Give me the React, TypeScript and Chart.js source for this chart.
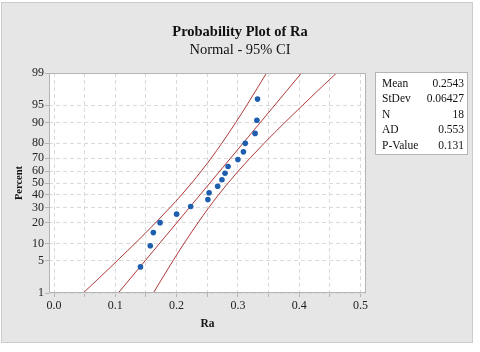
import React, { useEffect, useRef } from 'react';
import { Chart, registerables } from 'chart.js';

Chart.register(...registerables);

// ---- Data ----
const raValues = [0.141, 0.157, 0.162, 0.173, 0.2, 0.223, 0.251, 0.253, 0.267, 0.274, 0.279, 0.284, 0.3, 0.309, 0.312, 0.328, 0.331, 0.332];
const pointPercents = [3.8, 9.2, 14.7, 20.1, 25.5, 31.0, 36.4, 41.8, 47.3, 52.7, 58.2, 63.6, 69.0, 74.5, 79.9, 85.3, 90.8, 96.2];

const fitPercents = [1, 99];
const fitRa = [0.1048, 0.4038];

const ciPercents = [1, 2, 5, 10, 20, 30, 40, 50, 60, 70, 80, 90, 95, 98, 99];
const ciLowerRa = [0.0476, 0.07, 0.103, 0.1319, 0.1657, 0.1889, 0.2079, 0.2246, 0.2404, 0.2563, 0.2738, 0.2966, 0.3145, 0.3339, 0.3467];
const ciUpperRa = [0.162, 0.1747, 0.1941, 0.212, 0.2348, 0.2523, 0.2682, 0.284, 0.3007, 0.3197, 0.3429, 0.3767, 0.4056, 0.4386, 0.461];

const yTickPercents = [1, 5, 10, 20, 30, 40, 50, 60, 70, 80, 90, 95, 99];
const xTickValues = [0, 0.05, 0.1, 0.15, 0.2, 0.25, 0.3, 0.35, 0.4, 0.45, 0.5];
const xTickLabels = ['0.0', '', '0.1', '', '0.2', '', '0.3', '', '0.4', '', '0.5'];

const statLabels = ['Mean', 'StDev', 'N', 'AD', 'P-Value'];
const statValues = ['0.2543', '0.06427', '18', '0.553', '0.131'];

const titleText = 'Probability Plot of Ra';
const subtitleText = 'Normal - 95% CI';
const xTitle = 'Ra';
const yTitle = 'Percent';

// inverse standard normal CDF (probability axis transform)
function probit(p: number): number {
  const a = [-3.969683028665376e1, 2.209460984245205e2, -2.759285104469687e2, 1.38357751867269e2, -3.066479806614716e1, 2.506628277459239];
  const b = [-5.447609879822406e1, 1.615858368580409e2, -1.556989798598866e2, 6.680131188771972e1, -1.328068155288572e1];
  const c = [-7.784894002430293e-3, -3.223964580411365e-1, -2.400758277161838, -2.549732539343734, 4.374664141464968, 2.938163982698783];
  const d = [7.784695709041462e-3, 3.224671290700398e-1, 2.445134137142996, 3.754408661907416];
  const pl = 0.02425;
  const ph = 1 - pl;
  let q: number, r: number;
  if (p < pl) {
    q = Math.sqrt(-2 * Math.log(p));
    return (((((c[0] * q + c[1]) * q + c[2]) * q + c[3]) * q + c[4]) * q + c[5]) / ((((d[0] * q + d[1]) * q + d[2]) * q + d[3]) * q + 1);
  }
  if (p <= ph) {
    q = p - 0.5;
    r = q * q;
    return ((((((a[0] * r + a[1]) * r + a[2]) * r + a[3]) * r + a[4]) * r + a[5]) * q) / (((((b[0] * r + b[1]) * r + b[2]) * r + b[3]) * r + b[4]) * r + 1);
  }
  q = Math.sqrt(-2 * Math.log(1 - p));
  return -(((((c[0] * q + c[1]) * q + c[2]) * q + c[3]) * q + c[4]) * q + c[5]) / ((((d[0] * q + d[1]) * q + d[2]) * q + d[3]) * q + 1);
}

const SERIF = '"Liberation Serif", "Times New Roman", serif';
const RED = '#b03a3a';
const BLUE = '#1d5fae';

const decorPlugin = {
  id: 'decor',
  beforeDraw(chart: any) {
    const { ctx, chartArea: a } = chart;
    ctx.save();
    ctx.fillStyle = '#ffffff';
    ctx.fillRect(0, 0, chart.width, chart.height);
    ctx.fillStyle = '#e6e6e6';
    ctx.fillRect(1, 2, 472, 341);
    ctx.strokeStyle = '#cccccc';
    ctx.lineWidth = 1;
    ctx.strokeRect(1.5, 2.5, 471, 340);
    ctx.fillStyle = '#ffffff';
    ctx.fillRect(a.left, a.top, a.right - a.left, a.bottom - a.top);
    ctx.restore();
  },
  afterDraw(chart: any) {
    const { ctx, chartArea: a } = chart;
    ctx.save();
    // plot frame
    ctx.strokeStyle = '#b4b4b4';
    ctx.lineWidth = 1;
    ctx.strokeRect(a.left + 0.5, a.top + 0.5, a.right - a.left - 1, a.bottom - a.top - 1);

    // titles
    ctx.fillStyle = '#111';
    ctx.textAlign = 'center';
    ctx.textBaseline = 'alphabetic';
    ctx.font = `bold 14.5px ${SERIF}`;
    ctx.fillText(titleText, 240, 36);
    ctx.font = `14.5px ${SERIF}`;
    ctx.fillText(subtitleText, 240, 54);

    // axis titles
    ctx.font = `bold 11.5px ${SERIF}`;
    ctx.fillText(xTitle, (a.left + a.right) / 2, 327);
    ctx.save();
    ctx.translate(19, (a.top + a.bottom) / 2);
    ctx.rotate(-Math.PI / 2);
    ctx.textBaseline = 'middle';
    ctx.font = `bold 10.5px ${SERIF}`;
    ctx.fillText(yTitle, 0, 0);
    ctx.restore();

    // stats box
    const bx = 375, by = 72, bw = 93, bh = 83;
    ctx.fillStyle = '#ffffff';
    ctx.fillRect(bx, by, bw, bh);
    ctx.strokeStyle = '#b4b4b4';
    ctx.strokeRect(bx + 0.5, by + 0.5, bw - 1, bh - 1);
    ctx.fillStyle = '#111';
    ctx.font = `11.5px ${SERIF}`;
    statLabels.forEach((lab, i) => {
      const y = 86.7 + i * 15.45;
      ctx.textAlign = 'left';
      ctx.fillText(lab, 382, y);
      ctx.textAlign = 'right';
      ctx.fillText(statValues[i], 464, y);
    });
    ctx.restore();
  },
};

export default function App() {
  const canvasRef = useRef<HTMLCanvasElement | null>(null);

  useEffect(() => {
    document.body.style.margin = '0';
    const canvas = canvasRef.current;
    if (!canvas) return;

    const yMin = probit(0.01);
    const yMax = probit(0.99);

    const chart = new Chart(canvas, {
      type: 'scatter',
      data: {
        datasets: [
          {
            label: 'Ra',
            data: raValues.map((x, i) => ({ x, y: probit(pointPercents[i] / 100) })),
            pointRadius: 2.8,
            pointBackgroundColor: BLUE,
            pointBorderColor: BLUE,
            pointBorderWidth: 0,
            showLine: false,
            order: 0,
          },
          {
            label: 'Fit',
            data: fitRa.map((x, i) => ({ x, y: probit(fitPercents[i] / 100) })),
            showLine: true,
            pointRadius: 0,
            borderColor: RED,
            borderWidth: 1,
            order: 1,
          },
          {
            label: 'Lower CI',
            data: ciLowerRa.map((x, i) => ({ x, y: probit(ciPercents[i] / 100) })),
            showLine: true,
            pointRadius: 0,
            borderColor: RED,
            borderWidth: 1,
            cubicInterpolationMode: 'monotone',
            order: 1,
          },
          {
            label: 'Upper CI',
            data: ciUpperRa.map((x, i) => ({ x, y: probit(ciPercents[i] / 100) })),
            showLine: true,
            pointRadius: 0,
            borderColor: RED,
            borderWidth: 1,
            cubicInterpolationMode: 'monotone',
            order: 1,
          },
        ],
      },
      options: {
        responsive: false,
        animation: false,
        events: [],
        layout: { padding: { top: 73, right: 114, left: 0, bottom: 0 } },
        plugins: {
          legend: { display: false },
          title: { display: false },
          tooltip: { enabled: false },
        },
        scales: {
          x: {
            type: 'linear',
            min: -0.0082,
            max: 0.509,
            afterBuildTicks: (scale: any) => {
              scale.ticks = xTickValues.map((v) => ({ value: v }));
            },
            afterFit: (scale: any) => {
              scale.height = 59;
            },
            ticks: {
              autoSkip: false,
              maxRotation: 0,
              padding: 2,
              color: '#222',
              font: { family: SERIF, size: 12 },
              callback: (_v: any, i: number) => xTickLabels[i],
            },
            grid: {
              color: '#dadada',
              lineWidth: 1,
              tickLength: 4,
              tickColor: '#b4b4b4',
            },
            border: { display: false, dash: [4, 3] },
          },
          y: {
            type: 'linear',
            min: yMin,
            max: yMax,
            afterBuildTicks: (scale: any) => {
              scale.ticks = yTickPercents.map((p) => ({ value: probit(p / 100) }));
            },
            afterFit: (scale: any) => {
              scale.width = 49;
            },
            ticks: {
              autoSkip: false,
              padding: 1,
              color: '#222',
              font: { family: SERIF, size: 12 },
              callback: (_v: any, i: number) => String(yTickPercents[i]),
            },
            grid: {
              color: '#dadada',
              lineWidth: 1,
              tickLength: 4,
              tickColor: '#b4b4b4',
            },
            border: { display: false, dash: [4, 3] },
          },
        },
      } as any,
      plugins: [decorPlugin],
    });

    return () => {
      chart.destroy();
    };
  }, []);

  return (
    <div style={{ width: 480, height: 352 }}>
      <canvas ref={canvasRef} width={480} height={352} style={{ display: 'block' }} />
    </div>
  );
}
